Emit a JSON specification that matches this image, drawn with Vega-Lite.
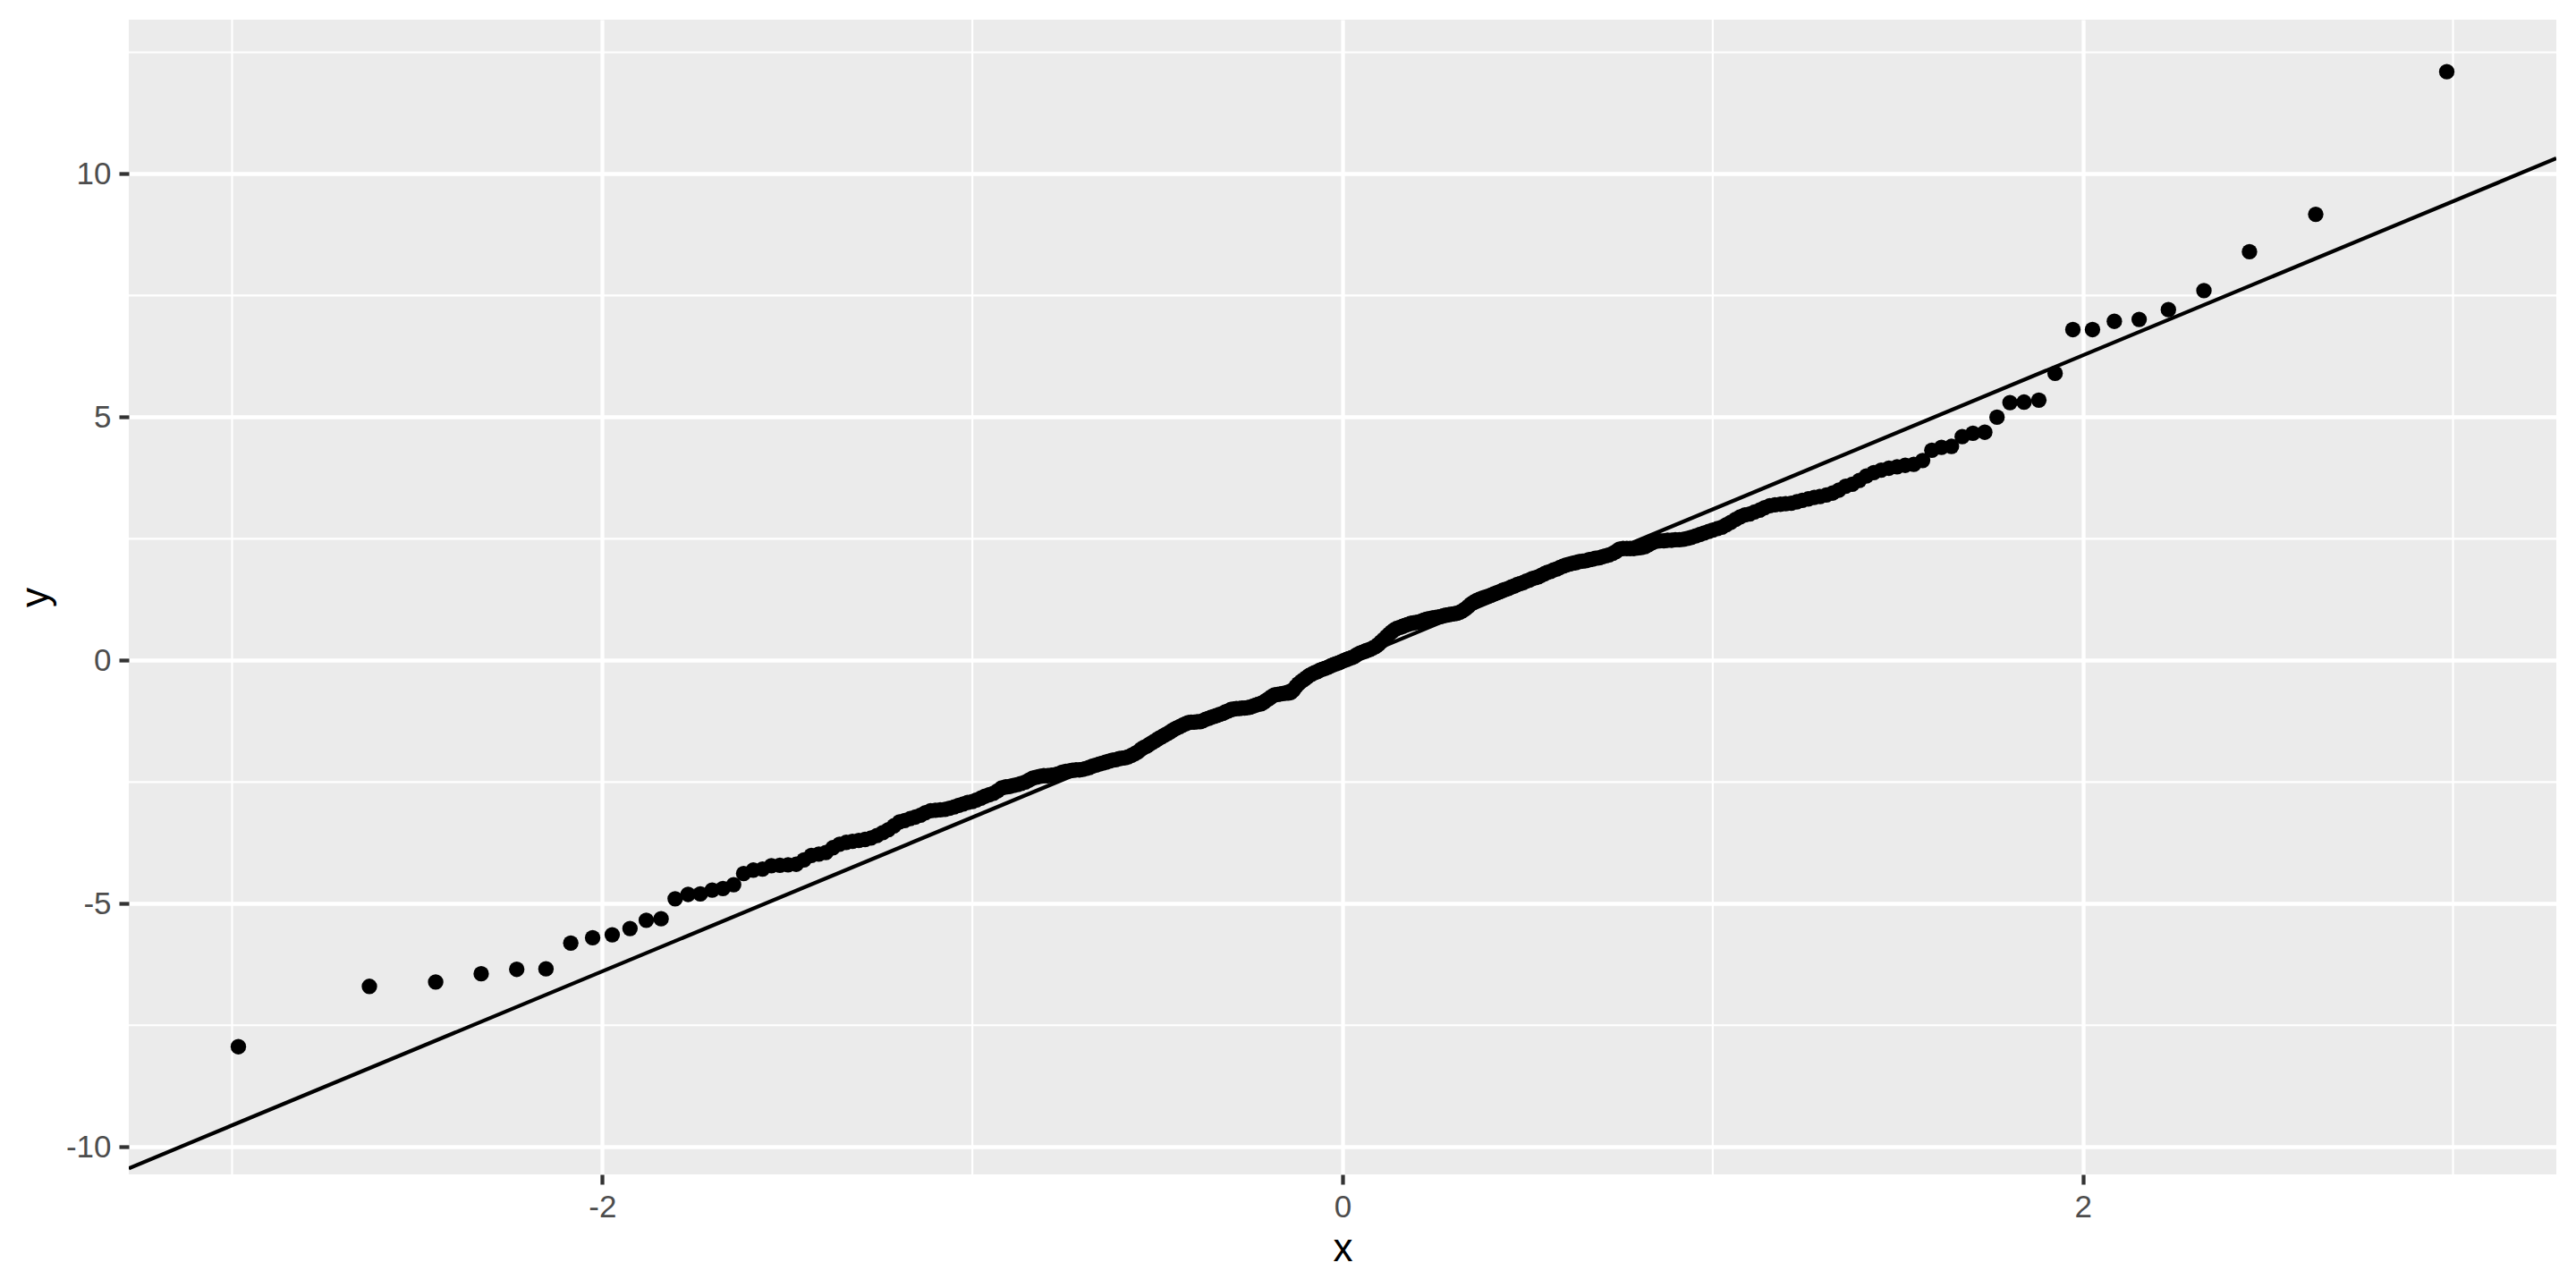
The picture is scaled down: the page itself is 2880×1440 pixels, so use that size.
{
 "$schema": "https://vega.github.io/schema/vega-lite/v6.json",
 "width": 2714,
 "height": 1291,
 "autosize": {"type": "none"},
 "padding": {"left": 144, "top": 22, "right": 22, "bottom": 105},
 "background": "white",
 "datasets": {
  "vminor": [{"x": -3}, {"x": -1}, {"x": 1}, {"x": 3}],
  "hminor": [{"y": -7.5}, {"y": -2.5}, {"y": 2.5}, {"y": 7.5}, {"y": 12.5}],
  "qline": [{"x": -3.279, "y": -10.44}, {"x": 3.279, "y": 10.32}],
  "pts": [
{"x":-2.983,"y":-7.94},{"x":-2.629,"y":-6.70},{"x":-2.450,"y":-6.61},{"x":-2.327,"y":-6.44},{"x":-2.231,"y":-6.35},
{"x":-2.152,"y":-6.34},{"x":-2.085,"y":-5.81},{"x":-2.026,"y":-5.70},{"x":-1.973,"y":-5.64},{"x":-1.925,"y":-5.51},
{"x":-1.881,"y":-5.34},{"x":-1.841,"y":-5.31},{"x":-1.803,"y":-4.90},{"x":-1.768,"y":-4.81},{"x":-1.735,"y":-4.80},
{"x":-1.703,"y":-4.72},{"x":-1.674,"y":-4.69},{"x":-1.645,"y":-4.61},{"x":-1.618,"y":-4.38},{"x":-1.592,"y":-4.31},
{"x":-1.567,"y":-4.29},{"x":-1.543,"y":-4.22},{"x":-1.520,"y":-4.21},{"x":-1.498,"y":-4.20},{"x":-1.476,"y":-4.19},
{"x":-1.455,"y":-4.10},{"x":-1.435,"y":-4.01},{"x":-1.415,"y":-3.98},{"x":-1.396,"y":-3.95},{"x":-1.377,"y":-3.85},
{"x":-1.359,"y":-3.78},{"x":-1.341,"y":-3.74},{"x":-1.324,"y":-3.72},{"x":-1.307,"y":-3.70},{"x":-1.290,"y":-3.68},
{"x":-1.274,"y":-3.65},{"x":-1.258,"y":-3.60},{"x":-1.242,"y":-3.54},{"x":-1.227,"y":-3.48},{"x":-1.212,"y":-3.40},
{"x":-1.197,"y":-3.32},{"x":-1.183,"y":-3.29},{"x":-1.168,"y":-3.25},{"x":-1.154,"y":-3.22},{"x":-1.140,"y":-3.18},
{"x":-1.127,"y":-3.13},{"x":-1.113,"y":-3.09},{"x":-1.100,"y":-3.08},{"x":-1.087,"y":-3.07},{"x":-1.074,"y":-3.06},
{"x":-1.062,"y":-3.04},{"x":-1.049,"y":-3.01},{"x":-1.037,"y":-2.98},{"x":-1.025,"y":-2.95},{"x":-1.013,"y":-2.92},
{"x":-1.000,"y":-2.90},{"x":-0.989,"y":-2.87},{"x":-0.977,"y":-2.83},{"x":-0.966,"y":-2.79},{"x":-0.954,"y":-2.76},
{"x":-0.943,"y":-2.73},{"x":-0.932,"y":-2.68},{"x":-0.921,"y":-2.62},{"x":-0.910,"y":-2.60},{"x":-0.899,"y":-2.59},
{"x":-0.889,"y":-2.57},{"x":-0.878,"y":-2.55},{"x":-0.868,"y":-2.53},{"x":-0.857,"y":-2.50},{"x":-0.847,"y":-2.46},
{"x":-0.837,"y":-2.42},{"x":-0.827,"y":-2.40},{"x":-0.817,"y":-2.38},{"x":-0.807,"y":-2.37},{"x":-0.797,"y":-2.37},
{"x":-0.787,"y":-2.36},{"x":-0.777,"y":-2.35},{"x":-0.768,"y":-2.33},{"x":-0.758,"y":-2.30},{"x":-0.748,"y":-2.28},
{"x":-0.739,"y":-2.27},{"x":-0.730,"y":-2.26},{"x":-0.720,"y":-2.25},{"x":-0.711,"y":-2.25},{"x":-0.702,"y":-2.24},
{"x":-0.693,"y":-2.22},{"x":-0.684,"y":-2.20},{"x":-0.675,"y":-2.17},{"x":-0.666,"y":-2.15},{"x":-0.657,"y":-2.13},
{"x":-0.648,"y":-2.11},{"x":-0.639,"y":-2.09},{"x":-0.630,"y":-2.07},{"x":-0.622,"y":-2.05},{"x":-0.613,"y":-2.04},
{"x":-0.604,"y":-2.02},{"x":-0.596,"y":-2.01},{"x":-0.587,"y":-2.00},{"x":-0.579,"y":-1.98},{"x":-0.570,"y":-1.95},
{"x":-0.562,"y":-1.92},{"x":-0.553,"y":-1.88},{"x":-0.545,"y":-1.83},{"x":-0.537,"y":-1.79},{"x":-0.529,"y":-1.76},
{"x":-0.521,"y":-1.72},{"x":-0.512,"y":-1.68},{"x":-0.504,"y":-1.64},{"x":-0.496,"y":-1.60},{"x":-0.488,"y":-1.57},
{"x":-0.480,"y":-1.53},{"x":-0.472,"y":-1.50},{"x":-0.464,"y":-1.46},{"x":-0.456,"y":-1.42},{"x":-0.448,"y":-1.39},
{"x":-0.440,"y":-1.36},{"x":-0.432,"y":-1.33},{"x":-0.424,"y":-1.30},{"x":-0.417,"y":-1.28},{"x":-0.409,"y":-1.27},
{"x":-0.401,"y":-1.27},{"x":-0.393,"y":-1.26},{"x":-0.385,"y":-1.26},{"x":-0.378,"y":-1.24},{"x":-0.370,"y":-1.21},
{"x":-0.362,"y":-1.19},{"x":-0.355,"y":-1.17},{"x":-0.347,"y":-1.15},{"x":-0.340,"y":-1.13},{"x":-0.332,"y":-1.11},
{"x":-0.324,"y":-1.09},{"x":-0.317,"y":-1.06},{"x":-0.309,"y":-1.04},{"x":-0.302,"y":-1.01},{"x":-0.294,"y":-1.00},
{"x":-0.287,"y":-0.99},{"x":-0.279,"y":-0.99},{"x":-0.272,"y":-0.98},{"x":-0.265,"y":-0.98},{"x":-0.257,"y":-0.97},
{"x":-0.250,"y":-0.96},{"x":-0.242,"y":-0.94},{"x":-0.235,"y":-0.92},{"x":-0.228,"y":-0.90},{"x":-0.220,"y":-0.89},
{"x":-0.213,"y":-0.86},{"x":-0.206,"y":-0.82},{"x":-0.198,"y":-0.78},{"x":-0.191,"y":-0.74},{"x":-0.184,"y":-0.71},
{"x":-0.176,"y":-0.70},{"x":-0.169,"y":-0.69},{"x":-0.162,"y":-0.68},{"x":-0.155,"y":-0.67},{"x":-0.147,"y":-0.67},
{"x":-0.140,"y":-0.66},{"x":-0.133,"y":-0.61},{"x":-0.126,"y":-0.54},{"x":-0.119,"y":-0.48},{"x":-0.111,"y":-0.43},
{"x":-0.104,"y":-0.39},{"x":-0.097,"y":-0.35},{"x":-0.090,"y":-0.31},{"x":-0.083,"y":-0.28},{"x":-0.075,"y":-0.25},
{"x":-0.068,"y":-0.23},{"x":-0.061,"y":-0.20},{"x":-0.054,"y":-0.18},{"x":-0.047,"y":-0.16},{"x":-0.039,"y":-0.14},
{"x":-0.032,"y":-0.11},{"x":-0.025,"y":-0.09},{"x":-0.018,"y":-0.07},{"x":-0.011,"y":-0.05},{"x":-0.004,"y":-0.03},
{"x":0.004,"y":0.00},{"x":0.011,"y":0.02},{"x":0.018,"y":0.04},{"x":0.025,"y":0.06},{"x":0.032,"y":0.08},
{"x":0.039,"y":0.12},{"x":0.047,"y":0.15},{"x":0.054,"y":0.17},{"x":0.061,"y":0.19},{"x":0.068,"y":0.21},
{"x":0.075,"y":0.23},{"x":0.083,"y":0.26},{"x":0.090,"y":0.29},{"x":0.097,"y":0.33},{"x":0.104,"y":0.38},
{"x":0.111,"y":0.43},{"x":0.119,"y":0.49},{"x":0.126,"y":0.54},{"x":0.133,"y":0.59},{"x":0.140,"y":0.63},
{"x":0.147,"y":0.66},{"x":0.155,"y":0.68},{"x":0.162,"y":0.70},{"x":0.169,"y":0.72},{"x":0.176,"y":0.74},
{"x":0.184,"y":0.76},{"x":0.191,"y":0.77},{"x":0.198,"y":0.78},{"x":0.206,"y":0.79},{"x":0.213,"y":0.81},
{"x":0.220,"y":0.83},{"x":0.228,"y":0.85},{"x":0.235,"y":0.86},{"x":0.242,"y":0.87},{"x":0.250,"y":0.88},
{"x":0.257,"y":0.89},{"x":0.265,"y":0.90},{"x":0.272,"y":0.92},{"x":0.279,"y":0.93},{"x":0.287,"y":0.94},
{"x":0.294,"y":0.95},{"x":0.302,"y":0.96},{"x":0.309,"y":0.97},{"x":0.317,"y":0.99},{"x":0.324,"y":1.02},
{"x":0.332,"y":1.06},{"x":0.340,"y":1.11},{"x":0.347,"y":1.16},{"x":0.355,"y":1.20},{"x":0.362,"y":1.23},
{"x":0.370,"y":1.26},{"x":0.378,"y":1.28},{"x":0.385,"y":1.30},{"x":0.393,"y":1.32},{"x":0.401,"y":1.34},
{"x":0.409,"y":1.37},{"x":0.417,"y":1.39},{"x":0.424,"y":1.41},{"x":0.432,"y":1.44},{"x":0.440,"y":1.46},
{"x":0.448,"y":1.48},{"x":0.456,"y":1.51},{"x":0.464,"y":1.53},{"x":0.472,"y":1.56},{"x":0.480,"y":1.58},
{"x":0.488,"y":1.60},{"x":0.496,"y":1.63},{"x":0.504,"y":1.65},{"x":0.512,"y":1.68},{"x":0.521,"y":1.70},
{"x":0.529,"y":1.72},{"x":0.537,"y":1.75},{"x":0.545,"y":1.78},{"x":0.553,"y":1.81},{"x":0.562,"y":1.83},
{"x":0.570,"y":1.86},{"x":0.579,"y":1.88},{"x":0.587,"y":1.91},{"x":0.596,"y":1.94},{"x":0.604,"y":1.96},
{"x":0.613,"y":1.98},{"x":0.622,"y":2.00},{"x":0.630,"y":2.01},{"x":0.639,"y":2.03},{"x":0.648,"y":2.04},
{"x":0.657,"y":2.05},{"x":0.666,"y":2.07},{"x":0.675,"y":2.08},{"x":0.684,"y":2.10},{"x":0.693,"y":2.11},
{"x":0.702,"y":2.13},{"x":0.711,"y":2.15},{"x":0.720,"y":2.17},{"x":0.730,"y":2.20},{"x":0.739,"y":2.24},
{"x":0.748,"y":2.29},{"x":0.758,"y":2.30},{"x":0.768,"y":2.30},{"x":0.777,"y":2.30},{"x":0.787,"y":2.30},
{"x":0.797,"y":2.31},{"x":0.807,"y":2.32},{"x":0.817,"y":2.34},{"x":0.827,"y":2.38},{"x":0.837,"y":2.42},
{"x":0.847,"y":2.45},{"x":0.857,"y":2.46},{"x":0.868,"y":2.46},{"x":0.878,"y":2.47},{"x":0.889,"y":2.47},
{"x":0.899,"y":2.48},{"x":0.910,"y":2.48},{"x":0.921,"y":2.49},{"x":0.932,"y":2.51},{"x":0.943,"y":2.53},
{"x":0.954,"y":2.56},{"x":0.966,"y":2.59},{"x":0.977,"y":2.62},{"x":0.989,"y":2.65},{"x":1.000,"y":2.68},
{"x":1.013,"y":2.71},{"x":1.025,"y":2.74},{"x":1.037,"y":2.79},{"x":1.049,"y":2.84},{"x":1.062,"y":2.90},
{"x":1.074,"y":2.95},{"x":1.087,"y":2.99},{"x":1.100,"y":3.01},{"x":1.113,"y":3.05},{"x":1.127,"y":3.09},
{"x":1.140,"y":3.14},{"x":1.154,"y":3.18},{"x":1.168,"y":3.20},{"x":1.183,"y":3.21},{"x":1.197,"y":3.22},
{"x":1.212,"y":3.23},{"x":1.227,"y":3.26},{"x":1.242,"y":3.29},{"x":1.258,"y":3.32},{"x":1.274,"y":3.35},
{"x":1.290,"y":3.37},{"x":1.307,"y":3.40},{"x":1.324,"y":3.44},{"x":1.341,"y":3.50},{"x":1.359,"y":3.58},
{"x":1.377,"y":3.62},{"x":1.396,"y":3.70},{"x":1.415,"y":3.79},{"x":1.435,"y":3.86},{"x":1.455,"y":3.91},
{"x":1.476,"y":3.95},{"x":1.498,"y":3.98},{"x":1.520,"y":4.01},{"x":1.543,"y":4.03},{"x":1.567,"y":4.11},
{"x":1.592,"y":4.32},{"x":1.618,"y":4.38},{"x":1.645,"y":4.40},{"x":1.674,"y":4.60},{"x":1.703,"y":4.67},
{"x":1.735,"y":4.69},{"x":1.768,"y":5.00},{"x":1.803,"y":5.30},{"x":1.841,"y":5.31},{"x":1.881,"y":5.35},
{"x":1.925,"y":5.90},{"x":1.973,"y":6.80},{"x":2.026,"y":6.80},{"x":2.085,"y":6.97},{"x":2.152,"y":7.01},
{"x":2.231,"y":7.21},{"x":2.327,"y":7.60},{"x":2.450,"y":8.40},{"x":2.629,"y":9.17},{"x":2.983,"y":12.10}
  ]
 },
 "layer": [
  {
   "data": {"name": "vminor"},
   "mark": {"type": "rule", "color": "white", "strokeWidth": 2.13},
   "encoding": {
    "x": {"field": "x", "type": "quantitative", "title": "x", "scale": {"domain": [-3.279, 3.279], "nice": false, "zero": false}, "axis": {"values": [-2, 0, 2]}}
   }
  },
  {
   "data": {"name": "hminor"},
   "mark": {"type": "rule", "color": "white", "strokeWidth": 2.13},
   "encoding": {
    "y": {"field": "y", "type": "quantitative", "title": "y", "scale": {"domain": [-10.565, 13.17], "nice": false, "zero": false}, "axis": {"values": [-10, -5, 0, 5, 10]}}
   }
  },
  {
   "data": {"name": "pts"},
   "mark": {"type": "circle", "size": 300, "color": "black", "opacity": 1},
   "encoding": {
    "x": {"field": "x", "type": "quantitative", "title": "x", "scale": {"domain": [-3.279, 3.279], "nice": false, "zero": false}, "axis": {"values": [-2, 0, 2]}},
    "y": {"field": "y", "type": "quantitative", "title": "y", "scale": {"domain": [-10.565, 13.17], "nice": false, "zero": false}, "axis": {"values": [-10, -5, 0, 5, 10]}}
   }
  },
  {
   "data": {"name": "qline"},
   "mark": {"type": "line", "color": "black", "strokeWidth": 4.27, "clip": true},
   "encoding": {
    "x": {"field": "x", "type": "quantitative", "title": "x", "scale": {"domain": [-3.279, 3.279], "nice": false, "zero": false}, "axis": {"values": [-2, 0, 2]}},
    "y": {"field": "y", "type": "quantitative", "title": "y", "scale": {"domain": [-10.565, 13.17], "nice": false, "zero": false}, "axis": {"values": [-10, -5, 0, 5, 10]}}
   }
  }
 ],
 "config": {
  "view": {"stroke": null, "fill": "#EBEBEB"},
  "axis": {
   "grid": true,
   "gridColor": "white",
   "gridWidth": 4.27,
   "gridOpacity": 1,
   "domain": false,
   "tickColor": "#333333",
   "tickSize": 11,
   "tickWidth": 4.27,
   "labelFont": "Liberation Sans",
   "labelFontSize": 35,
   "labelColor": "#4D4D4D",
   "labelFlush": false,
   "labelOverlap": false,
   "labelExpr": "'' + datum.value",
   "titleFont": "Liberation Sans",
   "titleFontSize": 44,
   "titleFontWeight": "normal",
   "titleColor": "black"
  },
  "axisX": {
   "labelPadding": 8.5,
   "titleBaseline": "alphabetic",
   "titleAlign": "center",
   "titleY": 96,
   "titleX": 1357
  },
  "axisY": {
   "labelPadding": 9,
   "titleAngle": 270,
   "titleBaseline": "alphabetic",
   "titleAlign": "center",
   "titleX": -91,
   "titleY": 645.5
  }
 }
}
